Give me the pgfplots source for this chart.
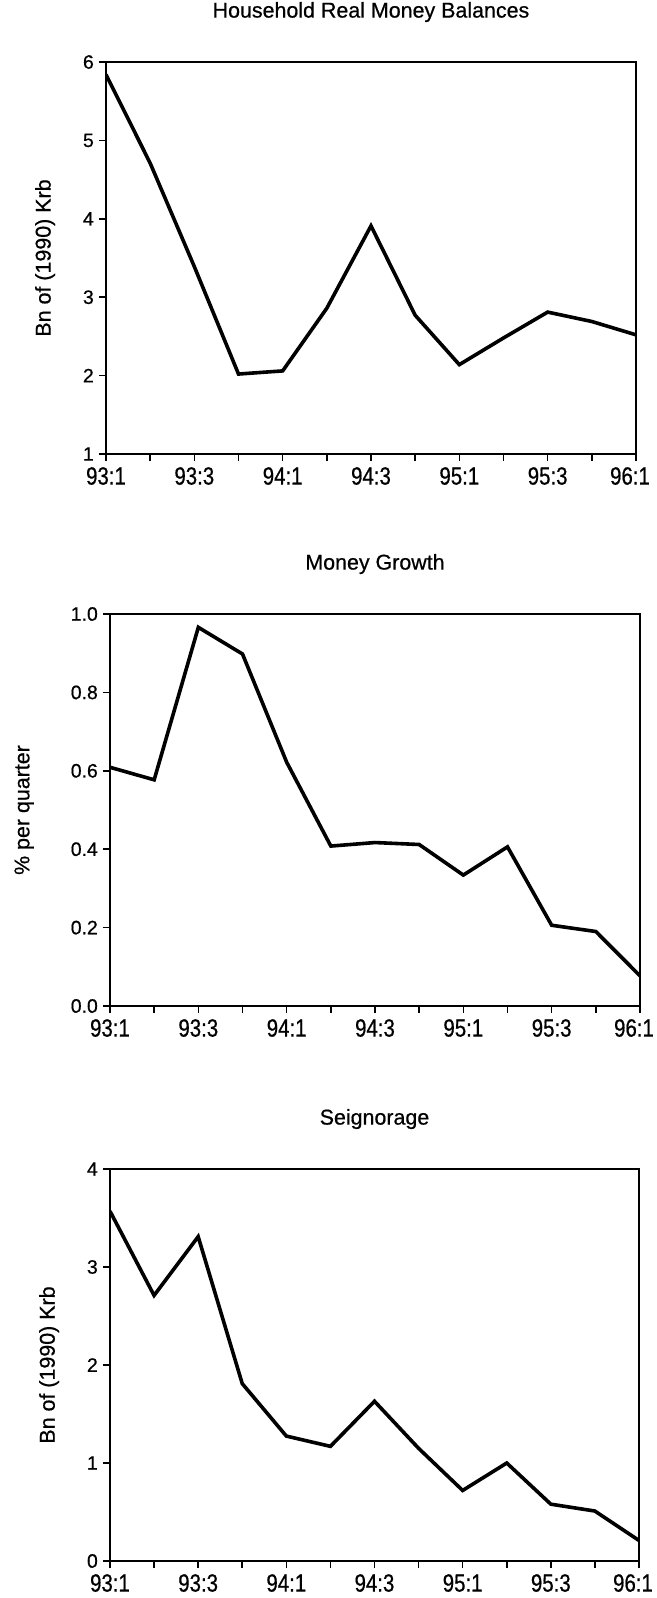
\documentclass[border=0pt]{standalone}
\usepackage{pgfplots}
\pgfplotsset{compat=1.18}
\usepackage{fontspec}
\setmainfont{Liberation Sans}[UprightFeatures={FakeBold=0.6}]
\newfontfamily\xtf{Liberation Sans}[FakeStretch=0.82, UprightFeatures={FakeBold=0.6}]
\begin{document}
\begin{tikzpicture}
\path[use as bounding box] (0,0) rectangle (657bp,-1598bp);
\pgfplotsset{
  qax/.style={
    scale only axis, width=530bp, height=392bp,
    xmin=0, xmax=12, xtick={0,...,12},
    xticklabels={93:1,,93:3,,94:1,,94:3,,95:1,,95:3,,},
    extra x ticks={12}, extra x tick labels={96:1},
    extra x tick style={xticklabel style={xshift=-6bp}},
    tick align=outside, xtick pos=lower, ytick pos=left,
    major tick length=7bp,
    axis line style={line width=2.7bp},
    every tick/.style={black, line width=1.6bp},
    yticklabel style={font=\fontsize{19.5}{22}\selectfont, inner sep=2bp, xshift=-3bp},
    xticklabel style={font=\xtf\fontsize{25}{28}\selectfont, inner sep=2bp, yshift=-4bp},
    label style={font=\fontsize{21.5}{24}\selectfont},
    title style={font=\fontsize{21.5}{24}\selectfont, at={(0.5,1)}, anchor=center, yshift=44bp},
    /pgf/number format/assume math mode=true,
    ylabel style={at={(axis description cs:-0.115,0.5)}, anchor=center},
    anchor=south west,
  },
  ser/.style={black, line width=3.6bp, line join=miter, no marks},
}
\begin{axis}[qax, at={(106bp,-454bp)}, ymin=1, ymax=6, ytick={1,...,6},
  title={Household Real Money Balances}, ylabel={Bn of (1990) Krb}]
\addplot[ser] coordinates {
(0,5.84) (1,4.71) (2,3.39) (3,2.02) (4,2.06) (5,2.86) (6,3.91) (7,2.77) (8,2.14) (9,2.48) (10,2.81) (11,2.69) (12,2.52)};
\end{axis}
\begin{axis}[qax, at={(110bp,-1006bp)}, ymin=0, ymax=1, ytick={0,0.2,...,1.0},
  yticklabel style={/pgf/number format/.cd, fixed, fixed zerofill, precision=1},
  title={Money Growth}, ylabel={\% per quarter},
  ylabel style={at={(axis description cs:-0.162,0.5)}}]
\addplot[ser] coordinates {
(0,0.609) (1,0.577) (2,0.966) (3,0.898) (4,0.622) (5,0.408) (6,0.417) (7,0.412) (8,0.334) (9,0.406) (10,0.206) (11,0.190) (12,0.077)};
\end{axis}
\begin{axis}[qax, at={(110bp,-1561bp)}, width=529bp, ymin=0, ymax=4, ytick={0,...,4},
  title={Seignorage}, ylabel={Bn of (1990) Krb}]
\addplot[ser] coordinates {
(0,3.57) (1,2.71) (2,3.31) (3,1.81) (4,1.275) (5,1.17) (6,1.63) (7,1.15) (8,0.72) (9,1.00) (10,0.58) (11,0.51) (12,0.21)};
\end{axis}
\end{tikzpicture}
\end{document}
